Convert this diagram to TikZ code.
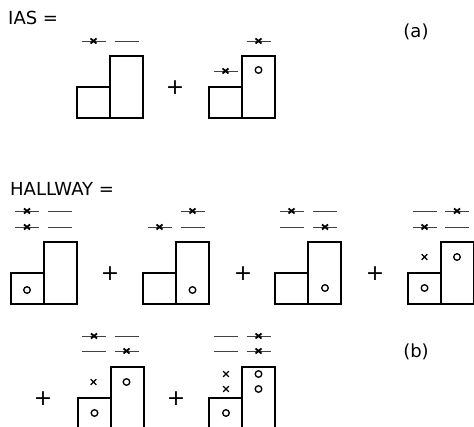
\documentclass[tikz,border=0pt]{standalone}
\usepackage{fontspec}
\setmainfont{DejaVu Sans}
\usetikzlibrary{positioning}

% one configuration: small cell + tall cell, bottom left corner at (#1,#2)
\newcommand{\cellpair}[2]{\draw[cell] (#1,#2) rectangle ++(33,-31) ++(0,31) rectangle ++(33,-62);}
\newcommand{\lev}[2]{\draw[level] (#1-12,#2) -- (#1+12,#2);}
\newcommand{\levx}[2]{\lev{#1}{#2}\path (#1,#2) pic{xon};}
\newcommand{\occ}[2]{\draw[occ] (#1,#2) circle[radius=3.3];}
\newcommand{\hole}[2]{\path (#1,#2) pic{xfree};}

\begin{document}
\begin{tikzpicture}[
          x=1pt, y=-1pt,   % pixel units, y downwards
          cell/.style={draw, line width=1.4pt},
          level/.style={draw=black!75, line width=0.8pt},
          occ/.style={draw, line width=1.3pt},
          xon/.pic={\draw[line width=1.8pt] (-3,-2.5) -- (3,2.5) (-3,2.5) -- (3,-2.5);},
          xfree/.pic={\draw[line width=1.3pt] (-2.8,-2.8) -- (2.8,2.8) (-2.8,2.8) -- (2.8,-2.8);},
          every node/.style={inner sep=0pt, font=\fontsize{18}{22}\selectfont},
          plus/.style={font=\fontsize{22}{26}\selectfont}
        ]
        \path[use as bounding box, clip] (0,0) rectangle (474,427);

        % (a)
        \node[anchor=base west] (ias) at (8,25) {IAS =};
        \node (lbla) at (416,32) {(a)};
        \cellpair{77}{118}
        \levx{93.5}{41} \lev{126.5}{41}
        \node[plus] (pa) at (175,88) {+};
        \cellpair{209}{118}
        \levx{225.5}{71} \levx{258.5}{41}
        \occ{258.5}{70}

        % (b)
        \node[anchor=base west] (hall) at (10,196) {HALLWAY =};
        \node (lblb) at (416,352) {(b)};
        % first row
        \cellpair{11}{304}
        \levx{27}{211} \levx{27}{227} \lev{60}{211} \lev{60}{227}
        \occ{27}{290}
        \node[plus] (pb1) at (110,274) {+};
        \cellpair{143}{304}
        \levx{192.5}{211} \levx{159.5}{227} \lev{192.5}{227}
        \occ{192.5}{290}
        \node[plus] (pb2) at (243,274) {+};
        \cellpair{275}{304}
        \levx{291.5}{211} \lev{325}{211} \lev{291.5}{227} \levx{325}{227}
        \occ{325}{288}
        \node[plus] (pb3) at (375,274) {+};
        \cellpair{408}{304}
        \lev{424.5}{211} \levx{457}{211} \levx{424.5}{227} \lev{457}{227}
        \hole{424.5}{257} \occ{424.5}{288} \occ{457}{257}
        % second row
        \node[plus] (pb4) at (43,399) {+};
        \cellpair{78}{429}
        \levx{94}{336} \lev{126.5}{336} \lev{94}{351} \levx{126.5}{351}
        \hole{93.5}{382} \occ{126.5}{382} \occ{94.5}{413}
        \node[plus] (pb5) at (176,399) {+};
        \cellpair{209}{429}
        \lev{225.5}{336} \levx{258.5}{336} \lev{225.5}{351} \levx{258.5}{351}
        \hole{226}{374} \hole{226}{389}
        \occ{258.5}{374} \occ{258.5}{389} \occ{226}{413}
        \end{tikzpicture}
\end{document}
